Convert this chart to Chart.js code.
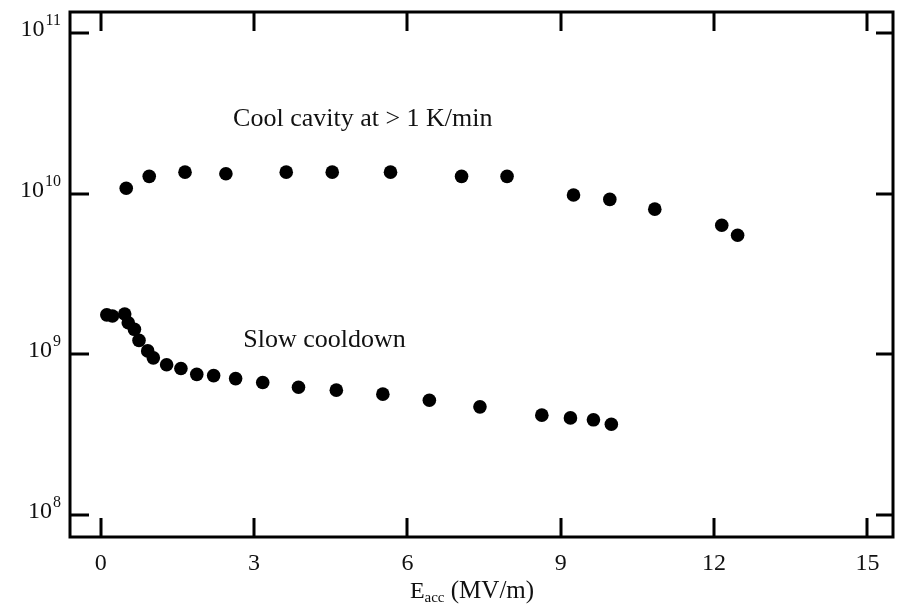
<!DOCTYPE html>
<html>
<head>
<meta charset="utf-8">
<script src="https://cdn.jsdelivr.net/npm/chart.js@4"></script>
<style>
  body { margin: 0; background: #fff; }
  canvas { display: block; }
</style>
</head>
<body>
<canvas id="grafico" width="903" height="606"></canvas>
<script>
// cool cavity at > 1 K/min
var coolE = [0.50, 0.95, 1.65, 2.45, 3.63, 4.53, 5.67, 7.06, 7.95, 9.25, 9.96, 10.84, 12.15, 12.46];
var coolQ = [1.08e10, 1.28e10, 1.36e10, 1.33e10, 1.36e10, 1.36e10, 1.36e10, 1.28e10, 1.28e10, 9.8e9, 9.2e9, 8.0e9, 6.35e9, 5.5e9];

// slow cooldown
var slowE = [0.12, 0.23, 0.47, 0.54, 0.66, 0.75, 0.92, 1.03, 1.29, 1.57, 1.88, 2.21, 2.64, 3.17, 3.87, 4.61, 5.52, 6.43, 7.42, 8.63, 9.19, 9.64, 9.99];
var slowQ = [1.76e9, 1.73e9, 1.78e9, 1.57e9, 1.43e9, 1.22e9, 1.05e9, 9.5e8, 8.6e8, 8.15e8, 7.5e8, 7.37e8, 7.06e8, 6.67e8, 6.24e8, 5.98e8, 5.65e8, 5.18e8, 4.71e8, 4.18e8, 4.02e8, 3.91e8, 3.67e8];

var xTicks = [0, 3, 6, 9, 12, 15];
var yExps = [8, 9, 10, 11];

var serif = '"Liberation Serif", "DejaVu Serif", serif';

function puntos(xs, ys) {
    var arr = [];
    for (var i = 0; i < xs.length; i++) {
        arr.push({ x: xs[i], y: ys[i] });
    }
    return arr;
}

// frame, inward ticks, labels and notes
var marco = {
    id: 'marco',
    afterDraw: function (chart) {
        var ctx = chart.ctx;
        var a = chart.chartArea;
        var sx = chart.scales.x;
        var sy = chart.scales.y;
        ctx.save();
        ctx.strokeStyle = '#000';
        ctx.fillStyle = '#111';
        ctx.lineWidth = 3;
        ctx.lineCap = 'butt';
        ctx.strokeRect(a.left, a.top, a.right - a.left, a.bottom - a.top);

        ctx.beginPath();
        xTicks.forEach(function (v) {
            var px = Math.round(sx.getPixelForValue(v));
            ctx.moveTo(px, a.bottom);
            ctx.lineTo(px, a.bottom - 19);
            ctx.moveTo(px, a.top);
            ctx.lineTo(px, a.top + 19);
        });
        yExps.forEach(function (e) {
            var py = Math.round(sy.getPixelForValue(Math.pow(10, e)));
            ctx.moveTo(a.left, py);
            ctx.lineTo(a.left + 19, py);
            ctx.moveTo(a.right, py);
            ctx.lineTo(a.right - 17, py);
        });
        ctx.stroke();

        // x tick labels
        ctx.font = '24px ' + serif;
        ctx.textAlign = 'center';
        ctx.textBaseline = 'alphabetic';
        xTicks.forEach(function (v) {
            ctx.fillText(String(v), sx.getPixelForValue(v), 570);
        });

        // y tick labels 10^n
        ctx.textAlign = 'left';
        yExps.forEach(function (e) {
            var py = sy.getPixelForValue(Math.pow(10, e));
            ctx.font = '16px ' + serif;
            var wSup = ctx.measureText(String(e)).width;
            ctx.font = '24px ' + serif;
            var wBase = ctx.measureText('10').width;
            var right = a.left - 9;
            ctx.fillText('10', right - wSup - wBase - 1, py + 3);
            ctx.font = '16px ' + serif;
            ctx.fillText(String(e), right - wSup, py - 8);
        });

        // x axis title: E_acc (MV/m)
        ctx.font = '24px ' + serif;
        var wE = ctx.measureText('E').width;
        ctx.font = '15px ' + serif;
        var wSub = ctx.measureText('acc').width;
        ctx.font = '25px ' + serif;
        var wRest = ctx.measureText(' (MV/m)').width;
        var x0 = 472 - (wE + wSub + wRest) / 2;
        ctx.font = '24px ' + serif;
        ctx.fillText('E', x0, 598);
        ctx.font = '15px ' + serif;
        ctx.fillText('acc', x0 + wE, 602);
        ctx.font = '25px ' + serif;
        ctx.fillText(' (MV/m)', x0 + wE + wSub, 598);

        // notes
        ctx.font = '26px ' + serif;
        ctx.fillText('Cool cavity at > 1 K/min', sx.getPixelForValue(2.59), sy.getPixelForValue(Math.pow(10, 10.421)));
        ctx.fillText('Slow cooldown', sx.getPixelForValue(2.79), sy.getPixelForValue(Math.pow(10, 9.048)));
        ctx.restore();
    }
};

var control = document.getElementById('grafico');
var grafico = new Chart(control, {
    type: 'scatter',
    data: {
        datasets: [{
            label: 'Cool cavity at > 1 K/min',
            data: puntos(coolE, coolQ),
            backgroundColor: '#000',
            borderWidth: 0,
            pointRadius: 6.8
        }, {
            label: 'Slow cooldown',
            data: puntos(slowE, slowQ),
            backgroundColor: '#000',
            borderWidth: 0,
            pointRadius: 6.8
        }]
    },
    options: {
        responsive: false,
        devicePixelRatio: 1,
        animation: false,
        layout: {
            padding: { left: 70, right: 10, top: 12, bottom: 69 }
        },
        plugins: {
            legend: { display: false },
            tooltip: { enabled: false }
        },
        scales: {
            x: {
                type: 'linear',
                display: false,
                min: -0.6,
                max: 15.5
            },
            y: {
                type: 'logarithmic',
                display: false,
                min: Math.pow(10, 7.863),
                max: Math.pow(10, 11.13)
            }
        }
    },
    plugins: [marco]
});
</script>
</body>
</html>
